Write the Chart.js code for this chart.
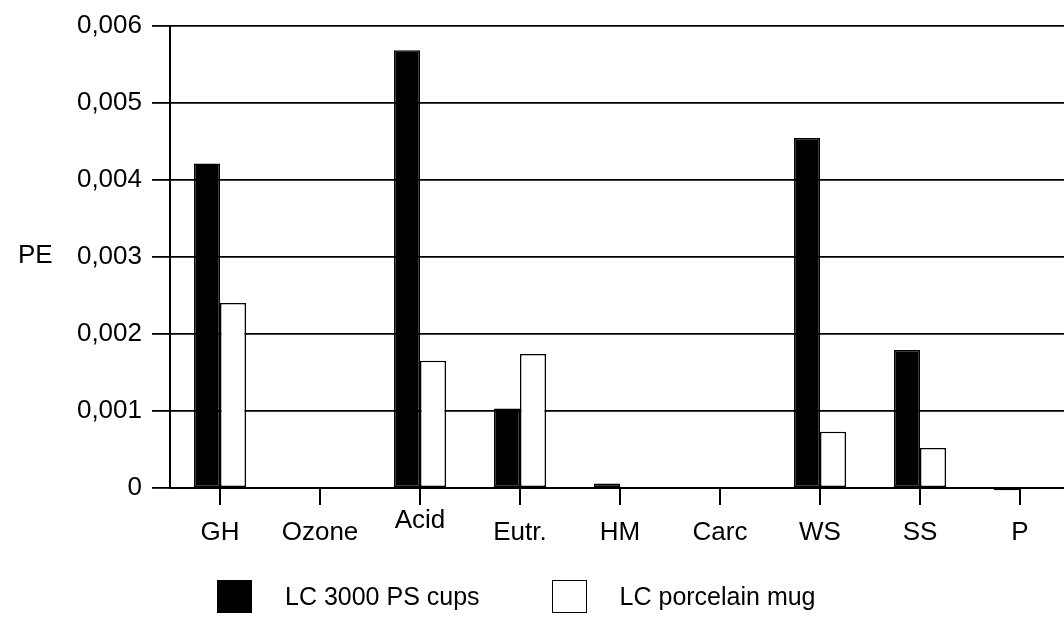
<!DOCTYPE html>
<html>
<head>
<meta charset="utf-8">
<script src="https://cdn.jsdelivr.net/npm/chart.js@4.4.1/dist/chart.umd.min.js"></script>
<style>
  html, body { margin: 0; padding: 0; background: #fff; overflow: hidden; }
  #wrap { position: relative; width: 1070px; height: 617px; }
  #legend {
    position: absolute; left: 217px; top: 580px;
    display: flex; align-items: center;
    font: 25px "Liberation Sans", Arial, sans-serif; color: #000;
  }
  .item { display: flex; align-items: center; margin-right: 72px; }
  .box { width: 33px; height: 31px; border: 1.5px solid #000; margin-right: 33px; }
</style>
</head>
<body>
<div id="wrap">
  <canvas id="grafico" width="1070" height="617"></canvas>
  <div id="legend"></div>
</div>
<script>
// ===== Data =====
const categories = ['GH', 'Ozone', 'Acid', 'Eutr.', 'HM', 'Carc', 'WS', 'SS', 'P'];
const seriesNames = ['LC 3000 PS cups', 'LC porcelain mug'];
const psCups = [0.00421, 0, 0.00568, 0.00103, 0.00006, 0, 0.00454, 0.00179, -0.00003];
const porcelainMug = [0.0024, 0, 0.00165, 0.00174, 0, 0, 0.00073, 0.00052, 0];
const yTicks = [0, 0.001, 0.002, 0.003, 0.004, 0.005, 0.006];
const yTitle = 'PE';

const fillColors = ['#000', '#fff'];
const FONT = '"Liberation Sans", Arial, sans-serif';

function fmt(v) {
  return v === 0 ? '0' : v.toFixed(3).replace('.', ',');
}

// ===== Legend (HTML) =====
const legend = document.getElementById('legend');
seriesNames.forEach((name, i) => {
  const item = document.createElement('div');
  item.className = 'item';
  const box = document.createElement('div');
  box.className = 'box';
  box.style.background = fillColors[i];
  const label = document.createElement('span');
  label.textContent = name;
  item.append(box, label);
  legend.appendChild(item);
});

// ===== Extra text: y title + category labels =====
const extraText = {
  id: 'extraText',
  afterDraw(chart) {
    const { ctx, chartArea, scales: { x } } = chart;
    ctx.save();
    ctx.fillStyle = '#000';
    ctx.font = `26px ${FONT}`;
    ctx.textBaseline = 'middle';
    ctx.textAlign = 'left';
    ctx.fillText(yTitle, 18, 256);
    ctx.textAlign = 'center';
    categories.forEach((c, i) => {
      const lift = c === 'Acid' ? 12 : 0; // label sits higher in the original
      ctx.fillText(c, x.getPixelForValue(i), chartArea.bottom + 45 - lift);
    });
    ctx.restore();
  }
};

// ===== Chart =====
new Chart(document.getElementById('grafico'), {
  type: 'bar',
  data: {
    labels: categories,
    datasets: [psCups, porcelainMug].map((d, i) => ({
      label: seriesNames[i],
      data: d,
      backgroundColor: fillColors[i],
      borderColor: '#000',
      borderWidth: 1.5,
      borderSkipped: false,
      categoryPercentage: 0.52,
      barPercentage: 1.0,
      clip: false
    }))
  },
  options: {
    responsive: false,
    animation: false,
    layout: { padding: { top: 23, left: 0, right: 0, bottom: 0 } },
    plugins: {
      legend: { display: false },
      tooltip: { enabled: false }
    },
    scales: {
      x: {
        offset: true,
        afterFit: (s) => { s.height = 129; },
        border: { display: true, color: '#000', width: 2 },
        grid: {
          offset: false,
          drawOnChartArea: false,
          color: '#000',
          lineWidth: 2,
          tickLength: 17
        },
        ticks: { display: false }
      },
      y: {
        min: 0,
        max: 0.006,
        afterFit: (s) => { s.width = 170; },
        afterBuildTicks: (s) => { s.ticks = yTicks.map(v => ({ value: v })); },
        border: { display: true, color: '#000', width: 2 },
        grid: { color: '#000', lineWidth: 1.8, tickLength: 18 },
        ticks: {
          color: '#000',
          padding: 10,
          font: { family: FONT, size: 26 },
          callback: (v) => fmt(v)
        }
      }
    }
  },
  plugins: [extraText]
});
</script>
</body>
</html>
